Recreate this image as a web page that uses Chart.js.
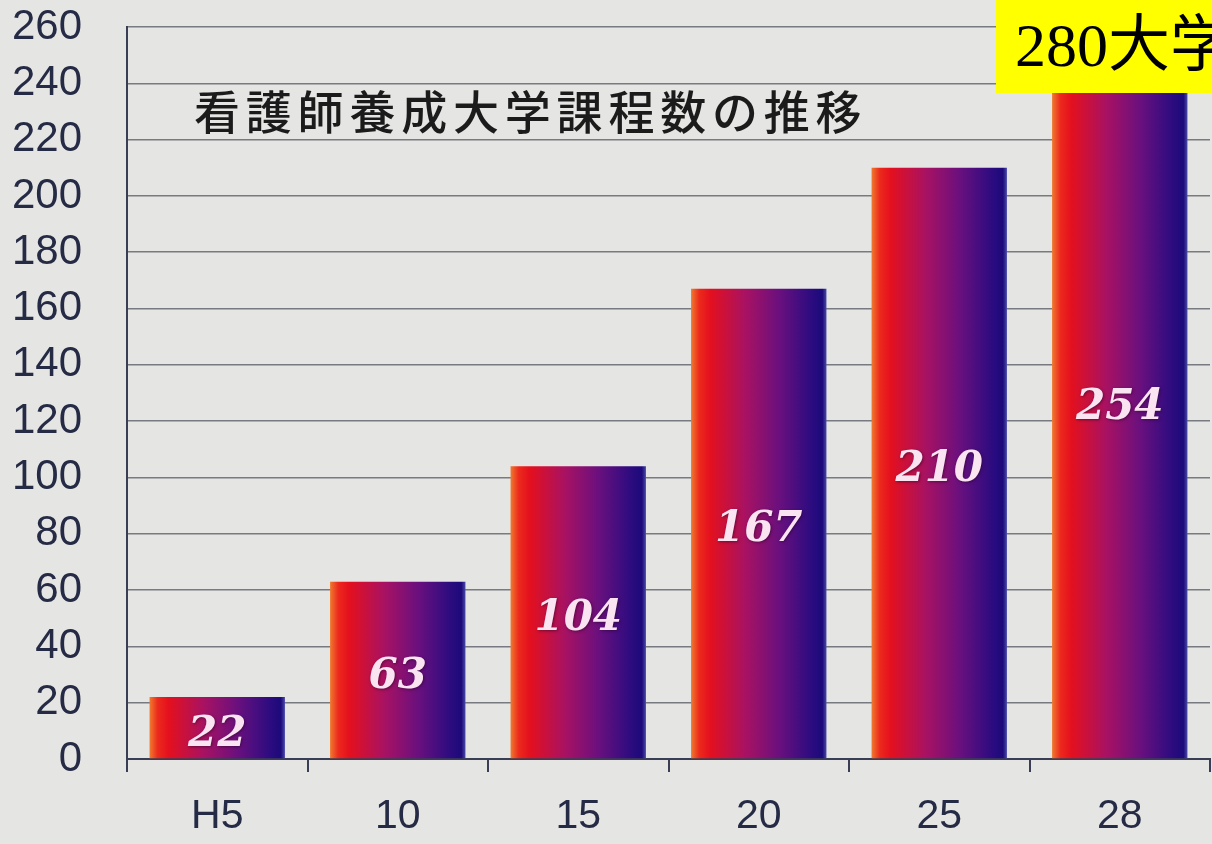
<!DOCTYPE html>
<html>
<head>
<meta charset="utf-8">
<script src="https://cdn.jsdelivr.net/npm/chart.js@4/dist/chart.umd.min.js"></script>
<style>
  html, body { margin: 0; padding: 0; background: #e5e5e3; }
  #wrap { position: relative; width: 1212px; height: 844px; overflow: hidden; background: #e5e5e3; }
  #title { position: absolute; left: 194px; top: 81px; font-family: "Noto Sans CJK JP", sans-serif; font-weight: 500;
           font-size: 46px; letter-spacing: 5.8px; color: #1b1b1b; line-height: 56px; white-space: nowrap; }
  #badge { position: absolute; left: 996px; top: 0; width: 240px; height: 93px; background: #ffff00;
           font-family: "Liberation Serif", "Noto Sans CJK JP", serif; font-size: 62px; color: #000;
           line-height: 90px; padding-left: 19px; box-sizing: border-box; white-space: nowrap; }
</style>
</head>
<body>
<div id="wrap">
  <canvas id="c" width="1212" height="844"></canvas>
  <div id="title">看護師養成大学課程数の推移</div>
  <div id="badge">280大学</div>
</div>
<script>
const categories = ["H5", "10", "15", "20", "25", "28"];
const courseCounts = [22, 63, 104, 167, 210, 254];
const yTicks = [0, 20, 40, 60, 80, 100, 120, 140, 160, 180, 200, 220, 240, 260];

function barGradient(ctx) {
  const chart = ctx.chart;
  const area = chart.chartArea;
  if (!area || ctx.type !== 'data') return '#7a1080';
  const xs = chart.scales.x;
  const cx = xs.getPixelForValue(ctx.dataIndex);
  const catW = (area.right - area.left) / categories.length;
  const w = catW * 0.75;
  const g = chart.ctx.createLinearGradient(cx - w / 2, 0, cx + w / 2, 0);
  g.addColorStop(0.0, '#f07a30');
  g.addColorStop(0.06, '#ec2a1c');
  g.addColorStop(0.14, '#e4101e');
  g.addColorStop(0.40, '#a81262');
  g.addColorStop(0.65, '#6a107e');
  g.addColorStop(0.88, '#2e0c80');
  g.addColorStop(0.97, '#1c0a7a');
  g.addColorStop(1.0, '#4a4aa8');
  return g;
}

const valueLabels = {
  id: 'valueLabels',
  afterDatasetsDraw(chart) {
    const c = chart.ctx;
    const meta = chart.getDatasetMeta(0);
    c.save();
    c.font = 'italic bold 42px "DejaVu Serif", serif';
    c.textAlign = 'center';
    c.textBaseline = 'middle';
    meta.data.forEach((bar, i) => {
      const y = (bar.y + bar.base) / 2 + 7;
      c.shadowColor = 'rgba(40,0,40,0.55)';
      c.shadowBlur = 3;
      c.shadowOffsetX = 1;
      c.shadowOffsetY = 1;
      c.fillStyle = '#fbe4f2';
      c.fillText(String(courseCounts[i]), bar.x, y);
    });
    c.restore();
  }
};

new Chart(document.getElementById('c'), {
  type: 'bar',
  data: {
    labels: categories,
    datasets: [{
      data: courseCounts,
      backgroundColor: barGradient,
      borderWidth: 0,
      barPercentage: 1.0,
      categoryPercentage: 0.75
    }]
  },
  options: {
    responsive: false,
    animation: false,
    devicePixelRatio: 1,
    layout: { padding: { top: 27, right: 2, bottom: 0, left: 0 } },
    plugins: { legend: { display: false }, tooltip: { enabled: false }, title: { display: false } },
    scales: {
      x: {
        afterFit(scale) { scale.height = 85; },
        grid: { drawOnChartArea: false, drawTicks: true, tickLength: 13, color: '#3a3e55', lineWidth: 2, offset: true },
        border: { display: true, color: '#3a3e55', width: 2 },
        ticks: { autoSkip: false, maxRotation: 0, color: '#262b45', font: { family: 'Liberation Sans, Arial, sans-serif', size: 41 }, padding: 20 }
      },
      y: {
        min: 0, max: 260,
        afterFit(scale) { scale.width = 127; },
        afterBuildTicks(scale) { scale.ticks = yTicks.map(v => ({ value: v })); },
        grid: { color: '#777a80', lineWidth: 1.5, drawTicks: true, tickLength: 45, tickColor: 'rgba(0,0,0,0)' },
        border: { display: true, color: '#3a3e55', width: 2 },
        ticks: { autoSkip: false, color: '#262b45', font: { family: 'Liberation Sans, Arial, sans-serif', size: 42, lineHeight: 1.0 }, padding: 0 }
      }
    }
  },
  plugins: [valueLabels]
});
</script>
</body>
</html>
